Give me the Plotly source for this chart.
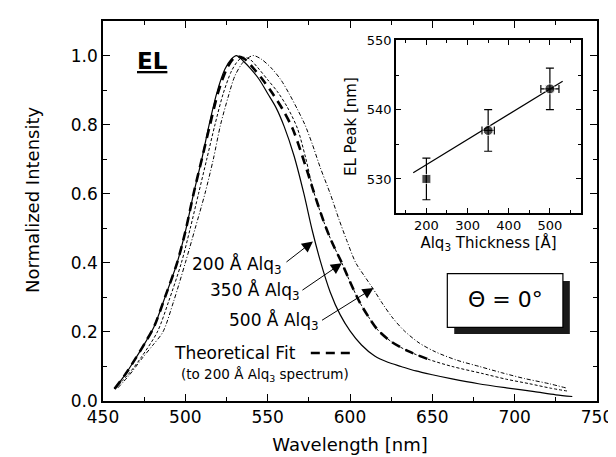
import plotly.graph_objects as go

FONT = "DejaVu Sans"

# ---------------- main spectra ----------------
wl_200 = [457, 464, 470, 476, 481, 488, 495, 500, 505, 510, 514, 519, 524, 528, 531, 535, 540, 545,
          550, 555, 560, 566, 572, 577, 582, 588, 594, 600, 607, 615, 623, 631, 640, 650, 662, 678,
          695, 712, 725, 735]
int_200 = [0.035, 0.08, 0.125, 0.172, 0.215, 0.305, 0.4, 0.49, 0.6, 0.7, 0.79, 0.89, 0.96, 0.99, 1.0,
           0.985, 0.96, 0.93, 0.89, 0.85, 0.795, 0.71, 0.6, 0.495, 0.405, 0.315, 0.25, 0.203, 0.162,
           0.13, 0.112, 0.1, 0.087, 0.076, 0.064, 0.05, 0.038, 0.027, 0.018, 0.013]

wl_350 = [457, 465, 473, 483, 490, 497.6, 503, 508, 513, 518, 523, 528, 532, 535, 539, 544, 550, 556,
          562, 568, 573, 578, 584, 589, 595, 600, 606, 612, 617, 625, 635, 648, 662, 680, 695, 709,
          722, 733]
int_350 = [0.035, 0.075, 0.125, 0.2, 0.29, 0.4, 0.5, 0.6, 0.7, 0.8, 0.89, 0.955, 0.985, 0.995, 0.99,
           0.965, 0.93, 0.895, 0.85, 0.79, 0.705, 0.605, 0.52, 0.46, 0.4, 0.345, 0.285, 0.238, 0.205,
           0.172, 0.145, 0.12, 0.1, 0.08, 0.063, 0.05, 0.037, 0.028]

wl_500 = [459, 466, 474, 480, 486.4, 493, 500, 506, 511.9, 517, 521.4, 526, 530, 535, 541, 546, 552,
          558, 563, 568, 572.6, 577, 582, 588, 593, 598, 603.5, 609, 614, 620, 626, 633, 642, 652,
          665, 678.5, 692, 706, 721, 731]
int_500 = [0.038, 0.075, 0.125, 0.16, 0.2, 0.29, 0.4, 0.5, 0.6, 0.7, 0.8, 0.88, 0.94, 0.98, 1.0, 0.99,
           0.965, 0.93, 0.89, 0.845, 0.8, 0.745, 0.675, 0.6, 0.53, 0.465, 0.4, 0.36, 0.325, 0.28,
           0.24, 0.203, 0.168, 0.142, 0.118, 0.1, 0.082, 0.065, 0.05, 0.038]

wl_fit = [457, 464, 470, 476, 481, 488, 495, 500, 505, 510, 515, 520, 525, 529, 532, 536, 541, 547,
          553, 559, 565, 571, 578, 584, 589, 595, 600, 606, 612, 617, 625, 635, 648]
int_fit = [0.035, 0.08, 0.125, 0.172, 0.215, 0.305, 0.4, 0.49, 0.6, 0.7, 0.8, 0.895, 0.96, 0.99,
           0.997, 0.99, 0.965, 0.93, 0.89, 0.845, 0.79, 0.71, 0.605, 0.52, 0.46, 0.4, 0.345, 0.285,
           0.238, 0.205, 0.172, 0.145, 0.12]

# ---------------- inset data ----------------
thickness = [200, 350, 500]
el_peak = [530, 537, 543]
peak_err = [3, 3, 3]
thick_err = [0, 15, 22]
fit_x = [168, 531]
fit_y = [530.9, 544.1]

x_ticks_main = [450, 500, 550, 600, 650, 700, 750]
y_ticks_main = [0.0, 0.2, 0.4, 0.6, 0.8, 1.0]
x_ticks_inset = [200, 300, 400, 500]
y_ticks_inset = [530, 540, 550]

fig = go.Figure()

fig.add_trace(go.Scatter(x=wl_200, y=int_200, mode="lines",
                         line=dict(color="black", width=1.2, shape="spline", smoothing=0.8)))
fig.add_trace(go.Scatter(x=wl_350, y=int_350, mode="lines",
                         line=dict(color="black", width=1, dash="3px,2px", shape="spline", smoothing=0.8)))
fig.add_trace(go.Scatter(x=wl_500, y=int_500, mode="lines",
                         line=dict(color="black", width=1, dash="4px,2px,1px,2px", shape="spline", smoothing=0.8)))
fig.add_trace(go.Scatter(x=wl_fit, y=int_fit, mode="lines",
                         line=dict(color="black", width=2.6, dash="9px,6px", shape="spline", smoothing=0.8)))

# inset
fig.add_trace(go.Scatter(x=fit_x, y=fit_y, mode="lines", line=dict(color="black", width=1.2),
                         xaxis="x2", yaxis="y2"))
fig.add_trace(go.Scatter(x=thickness, y=el_peak, mode="markers",
                         marker=dict(color="black", size=[9, 10, 10], symbol=["square", "circle", "circle"]),
                         error_y=dict(type="data", array=peak_err, color="black", thickness=1.2, width=4),
                         error_x=dict(type="data", array=thick_err, color="black", thickness=1.2, width=4),
                         xaxis="x2", yaxis="y2"))

axis_common = dict(showline=True, linecolor="black", linewidth=1.5, mirror="ticks", ticks="inside",
                   tickcolor="black", showgrid=False, zeroline=False)

fig.update_layout(
    width=616, height=457,
    margin=dict(l=95, r=27, t=13, b=64, autoexpand=False),
    paper_bgcolor="white", plot_bgcolor="white",
    showlegend=False,
    font=dict(family=FONT, color="black", size=17),
    xaxis=dict(range=[450, 750], tickvals=x_ticks_main, ticklen=7, tickwidth=1.2,
               minor=dict(dtick=25, ticks="inside", ticklen=4, tickcolor="black"),
               tickfont=dict(family=FONT, size=17),
               title=dict(text="Wavelength [nm]", font=dict(family=FONT, size=18), standoff=12),
               domain=[0, 1], **axis_common),
    yaxis=dict(range=[0, 1.1], tickvals=y_ticks_main, tickformat=".1f", ticklen=7, tickwidth=1.2,
               minor=dict(dtick=0.1, ticks="inside", ticklen=4, tickcolor="black"),
               tickfont=dict(family=FONT, size=17), domain=[0, 1], **axis_common),
    xaxis2=dict(range=[126, 576], tickvals=x_ticks_inset, ticklen=5, tickwidth=1,
                minor=dict(dtick=50, ticks="inside", ticklen=3, tickcolor="black"),
                tickfont=dict(family=FONT, size=13), anchor="y2", domain=[0.593, 0.968],
                title=dict(text="Alq<sub>3</sub> Thickness [Å]", font=dict(family=FONT, size=15), standoff=4),
                **axis_common),
    yaxis2=dict(range=[525.1, 550], tickvals=y_ticks_inset, ticklen=5, tickwidth=1,
                minor=dict(dtick=5, ticks="inside", ticklen=3, tickcolor="black"),
                tickfont=dict(family=FONT, size=13), anchor="x2", domain=[0.495, 0.949],
                title=dict(text="EL Peak [nm]", font=dict(family=FONT, size=15), standoff=6),
                **axis_common),
)

LBL = dict(family=FONT, size=17, color="black")
annotations = [
    dict(text="Normalized Intensity", xref="paper", yref="paper", x=-0.1417, y=0.529,
         textangle=-90, showarrow=False, font=dict(family=FONT, size=18, color="black"),
         xanchor="center", yanchor="middle"),
    dict(text="<b><u>EL</u></b>", xref="x", yref="y", x=480, y=0.985, showarrow=False,
         font=dict(family=FONT, size=23, color="black"), xanchor="center", yanchor="middle"),
    dict(text="200 Å Alq<sub>3</sub>", xref="x", yref="y", x=531.4, y=0.393, showarrow=False,
         font=LBL, xanchor="center", yanchor="middle"),
    dict(text="350 Å Alq<sub>3</sub>", xref="x", yref="y", x=542.3, y=0.318, showarrow=False,
         font=LBL, xanchor="center", yanchor="middle"),
    dict(text="500 Å Alq<sub>3</sub>", xref="x", yref="y", x=554, y=0.231, showarrow=False,
         font=LBL, xanchor="center", yanchor="middle"),
    dict(text="Theoretical Fit", xref="x", yref="y", x=529.9, y=0.139, showarrow=False,
         font=LBL, xanchor="center", yanchor="middle"),
    dict(text="(to 200 Å Alq<sub>3</sub> spectrum)", xref="x", yref="y", x=548.3, y=0.076,
         showarrow=False, font=dict(family=FONT, size=13.5, color="black"),
         xanchor="center", yanchor="middle"),
    dict(text="Θ = 0°", xref="paper", yref="paper", x=0.814, y=0.266, showarrow=False,
         font=dict(family=FONT, size=22, color="black"), xanchor="center", yanchor="middle"),
]
arrows = [((560.5, 0.399), (577.5, 0.462)),
          ((570.2, 0.318), (595.1, 0.399)),
          ((582.1, 0.231), (614.3, 0.327))]
for (tx, ty), (hx, hy) in arrows:
    annotations.append(dict(x=hx, y=hy, ax=tx, ay=ty, xref="x", yref="y", axref="x", ayref="y",
                            text="", showarrow=True, arrowhead=2, arrowsize=2.2, arrowwidth=1,
                            arrowcolor="black"))
fig.update_layout(annotations=annotations)

shapes = [
    dict(type="line", xref="x", yref="y", x0=576.2, x1=603.5, y0=0.139, y1=0.139,
         line=dict(color="black", width=2.6, dash="9px,6px")),
    dict(type="rect", xref="paper", yref="paper", x0=0.711, x1=0.945, y0=0.176, y1=0.316,
         fillcolor="#1a1a1a", line=dict(width=0)),
    dict(type="rect", xref="paper", yref="paper", x0=0.697, x1=0.931, y0=0.194, y1=0.335,
         fillcolor="white", line=dict(color="black", width=1.2)),
    dict(type="rect", xref="paper", yref="paper", x0=0.593, x1=0.968, y0=0.495, y1=0.949,
         fillcolor="white", line=dict(width=0), layer="below"),
]
fig.update_layout(shapes=shapes)

fig.write_html("out.html")
